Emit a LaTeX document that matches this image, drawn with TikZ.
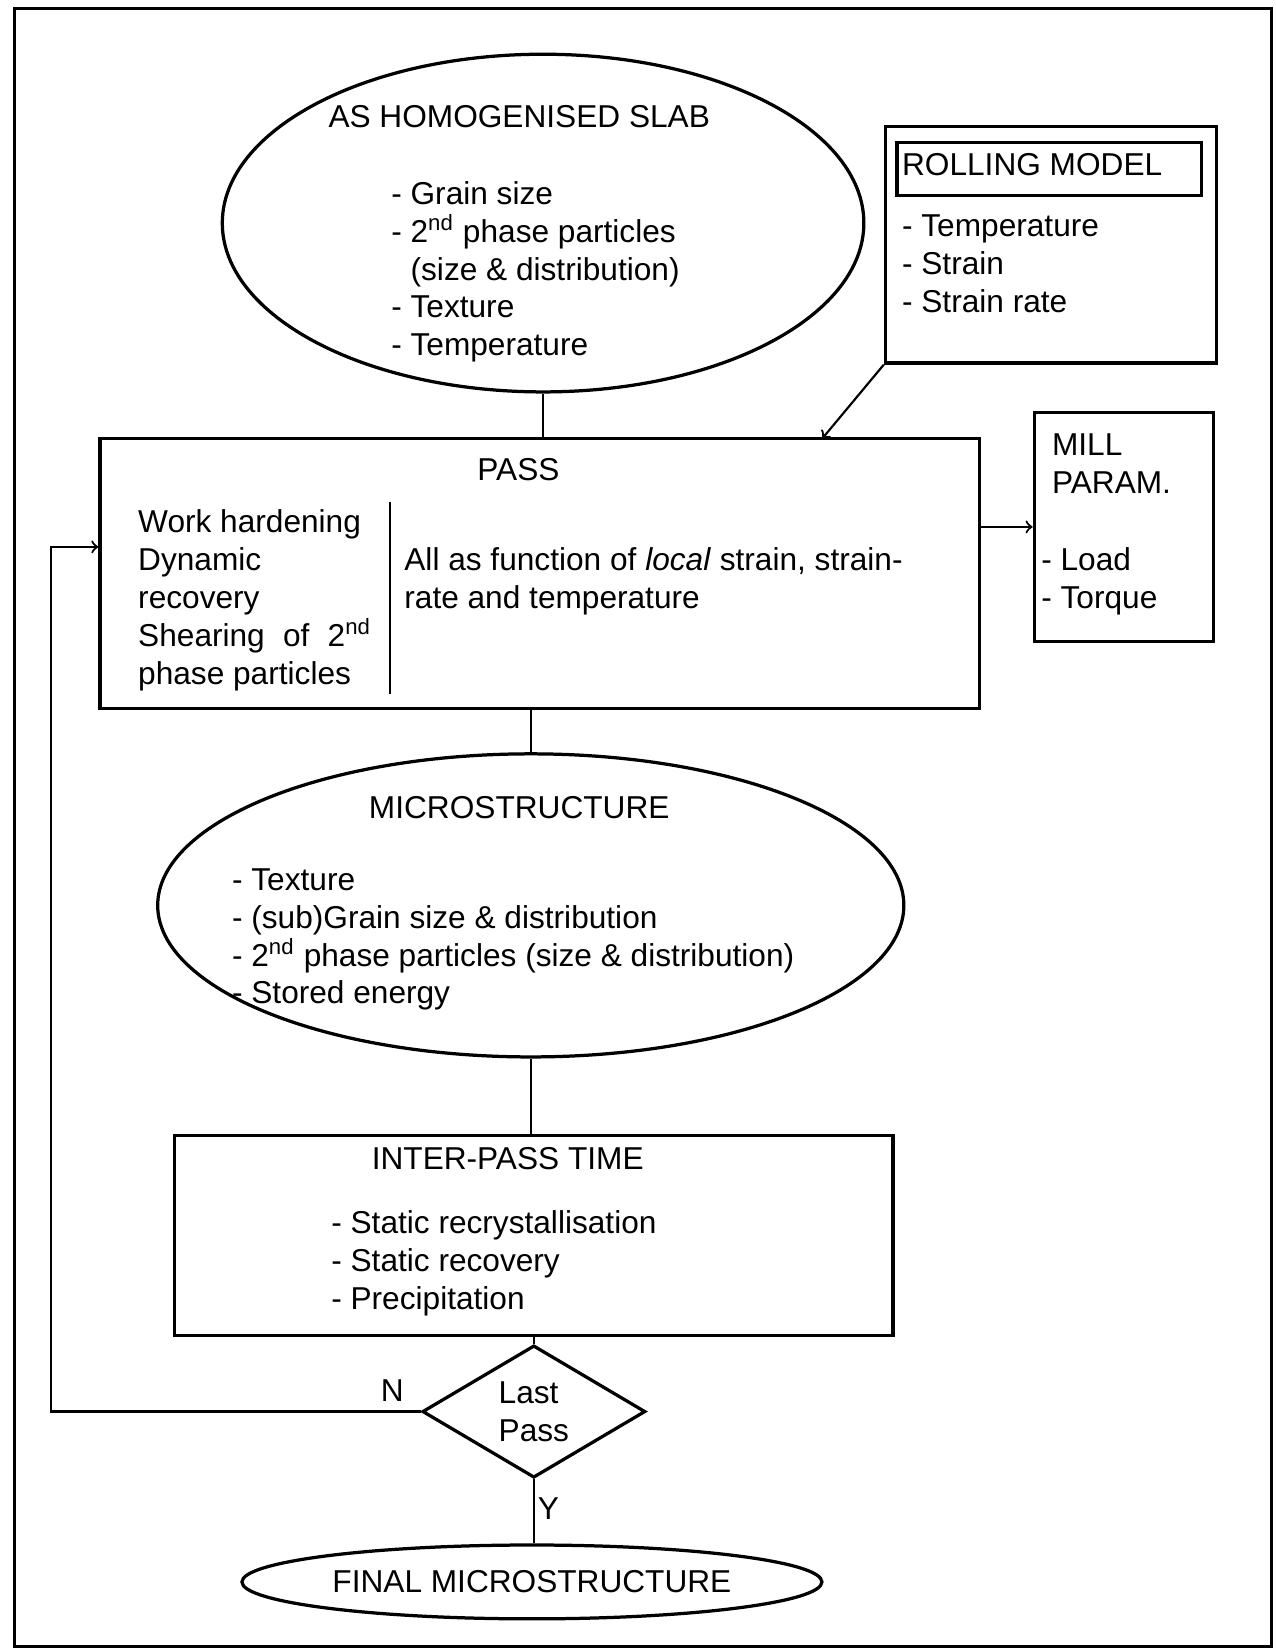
\documentclass[tikz,border=0pt]{standalone}
\usepackage{fontspec}
\setmainfont{Liberation Sans}
\usetikzlibrary{shapes.geometric}

\begin{document}
\begin{tikzpicture}[font=\fontsize{11.7}{14}\selectfont,
  box_node/.style={rectangle,draw,line width=1.2pt,inner sep=0},
  oval_node/.style={ellipse,draw,line width=1.2pt,inner sep=0},
  txt_node/.style={align=left,inner sep=0},
  link/.style={line width=0.8pt}]

    \useasboundingbox (0,0) rectangle (16.575,-21.424);
    \draw[line width=1.2pt] (0.19,-0.11) rectangle (16.53,-21.40);

    \node[oval_node,minimum width=8.34cm,minimum height=4.39cm] (slab) at (7.06,-2.90) {};
    \node[txt_node] (slab_title) at (6.75,-1.52) {AS HOMOGENISED SLAB};
    \node[txt_node,anchor=west] (slab_list) at (5.08,-3.535) {- Grain size\\- 2\textsuperscript{nd} phase particles\\\phantom{- }(size \& distribution)\\- Texture\\- Temperature};

    \node[box_node,minimum width=4.30cm,minimum height=3.08cm] (rolling) at (13.66,-3.18) {};
    \node[box_node,minimum width=3.96cm,minimum height=0.69cm] (rolling_head) at (13.64,-2.20) {};
    \node[txt_node,anchor=west] (rolling_title) at (11.72,-2.14) {ROLLING MODEL};
    \node[txt_node,anchor=west] (rolling_list) at (11.72,-3.43) {- Temperature\\- Strain\\- Strain rate};

    \node[box_node,minimum width=11.43cm,minimum height=3.51cm] (pass) at (7.015,-7.455) {};
    \node[txt_node] (pass_title) at (6.74,-6.11) {PASS};
    \node[txt_node,anchor=west] (pass_left) at (1.79,-7.805) {Work hardening\\Dynamic\\recovery\\Shearing\hspace{0.3em} of\hspace{0.3em} 2\textsuperscript{nd}\\phase particles};
    \node[txt_node,anchor=west] (pass_right) at (5.25,-7.555) {All as function of \textit{local} strain, strain-\\rate and temperature};
    \draw[link] (5.07,-6.52) -- (5.07,-9.02);

    \node[box_node,minimum width=2.33cm,minimum height=2.98cm] (mill) at (14.61,-6.85) {};
    \node[txt_node,anchor=west] (mill_title) at (13.67,-6.025) {MILL\\PARAM.};
    \node[txt_node,anchor=west] (mill_list) at (13.53,-7.56) {- Load\\- Torque};

    \node[oval_node,minimum width=9.70cm,minimum height=3.94cm] (micro) at (6.90,-11.77) {};
    \node[txt_node] (micro_title) at (6.75,-10.50) {MICROSTRUCTURE};
    \node[txt_node,anchor=west] (micro_list) at (3.01,-12.215) {- Texture\\- (sub)Grain size \& distribution\\- 2\textsuperscript{nd} phase particles (size \& distribution)\\- Stored energy};

    \node[box_node,minimum width=9.34cm,minimum height=2.60cm] (inter) at (6.94,-16.06) {};
    \node[txt_node] (inter_title) at (6.60,-15.06) {INTER-PASS TIME};
    \node[txt_node,anchor=west] (inter_list) at (4.30,-16.425) {- Static recrystallisation\\- Static recovery\\- Precipitation};

    \node[diamond,draw,line width=1.2pt,inner sep=0,minimum width=2.90cm,minimum height=1.72cm,align=left] (last) at (6.94,-18.35) {Last\\Pass};
    \node[txt_node] (n_label) at (5.10,-18.08) {N};
    \node[txt_node] (y_label) at (7.13,-19.61) {Y};

    \node[oval_node,minimum width=7.54cm,minimum height=0.96cm] (final) at (6.915,-20.565) {FINAL MICROSTRUCTURE};

    \coordinate (pass_in) at (10.69,-5.70);
    \coordinate (loop) at (0.66,-7.11);

    \draw[link] (slab.south) -- (slab.south |- pass.north);
    \draw[link,->] (rolling.south west) -- (pass_in);
    \draw[link,->] (mill.west -| pass.east) -- (mill.west);
    \draw[link] (micro.north |- pass.south) -- (micro.north);
    \draw[link] (micro.south) -- (micro.south |- inter.north);
    \draw[link] (last.north |- inter.south) -- (last.north);
    \draw[link] (last.south) -- (last.south |- final.north);
    \draw[link,->] (last.west) -| (loop) -- (loop -| pass.west);

\end{tikzpicture}
\end{document}
